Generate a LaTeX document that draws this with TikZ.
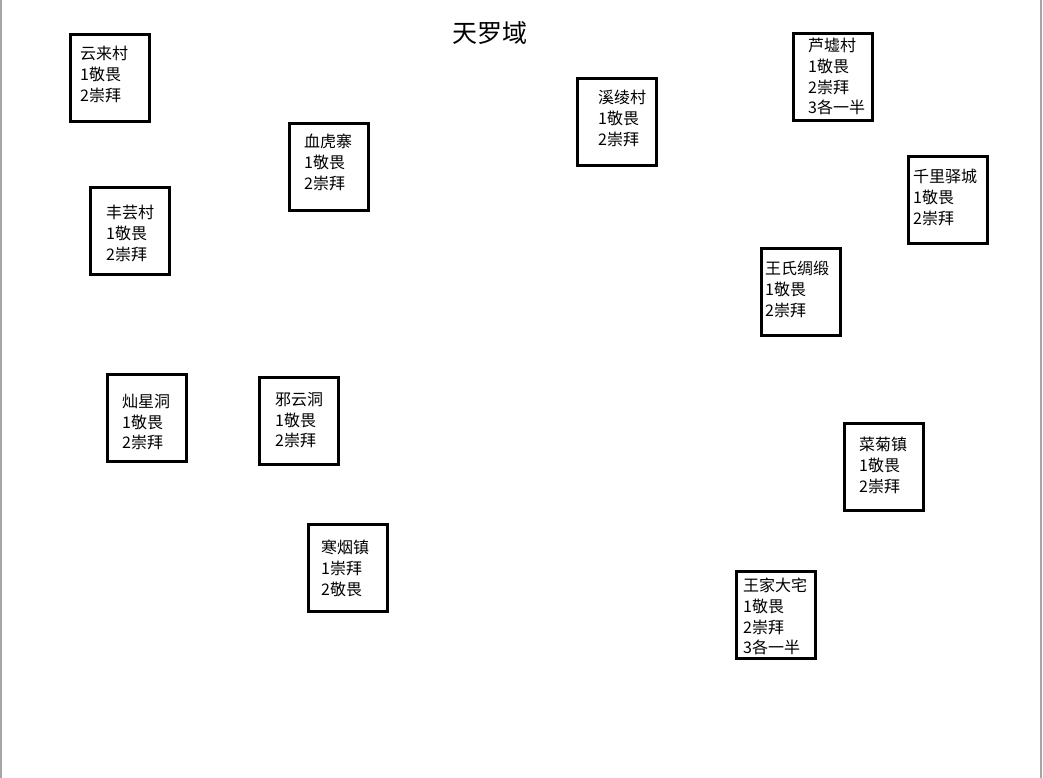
\documentclass[tikz,border=0pt]{standalone}
\usepackage{fontspec}
\setmainfont{Noto Sans CJK SC}
\usepackage{tikz}

\begin{document}
\begin{tikzpicture}[x = 1pt, y = -1pt,
    village/.style = {draw, line width = 3pt, minimum width = 79pt, minimum height = 87pt, inner sep = 0pt},
    vtext/.style = {anchor = north west, align = left, inner sep = 0pt, font = \fontsize{16}{20.7}\selectfont}]
          \useasboundingbox (0, 0) rectangle (1043, 778);
          \draw[gray!70, line width = 1.5pt](1, 0) -- (1, 778);
          \draw[gray!70, line width = 1.5pt](1041, 0) -- (1041, 778);
          \node[font = \fontsize{25}{30}\selectfont] (title) at (490, 33) {天罗域};
          % boxes
          \node[village] (yunlai) at (110, 78) {};
          \node[village] (xuehu) at (329, 167) {};
          \node[village] (fengyun) at (130, 231) {};
          \node[village] (canxing) at (147, 418) {};
          \node[village] (xieyun) at (299, 421) {};
          \node[village] (hanyan) at (348, 568) {};
          \node[village] (xiling) at (617, 122) {};
          \node[village] (luxu) at (833, 77) {};
          \node[village] (qianli) at (948, 200) {};
          \node[village] (wangshi) at (801, 292) {};
          \node[village] (caiju) at (884, 467) {};
          \node[village] (wangjia) at (776, 615) {};
          % texts
          \node[vtext] (yunlai text) at (80, 46) {云来村\\1敬畏\\2崇拜};
          \node[vtext] (xuehu text) at (304, 134) {血虎寨\\1敬畏\\2崇拜};
          \node[vtext] (fengyun text) at (106, 205) {丰芸村\\1敬畏\\2崇拜};
          \node[vtext] (canxing text) at (122, 394) {灿星洞\\1敬畏\\2崇拜};
          \node[vtext] (xieyun text) at (275, 392) {邪云洞\\1敬畏\\2崇拜};
          \node[vtext] (hanyan text) at (321, 540) {寒烟镇\\1崇拜\\2敬畏};
          \node[vtext] (xiling text) at (598, 90) {溪绫村\\1敬畏\\2崇拜};
          \node[vtext] (luxu text) at (808, 38) {芦墟村\\1敬畏\\2崇拜\\3各一半};
          \node[vtext] (qianli text) at (913, 169) {千里驿城\\1敬畏\\2崇拜};
          \node[vtext] (wangshi text) at (765, 261) {王氏绸缎\\1敬畏\\2崇拜};
          \node[vtext] (caiju text) at (859, 437) {菜菊镇\\1敬畏\\2崇拜};
          \node[vtext] (wangjia text) at (743, 578) {王家大宅\\1敬畏\\2崇拜\\3各一半};
        \end{tikzpicture}
\end{document}
